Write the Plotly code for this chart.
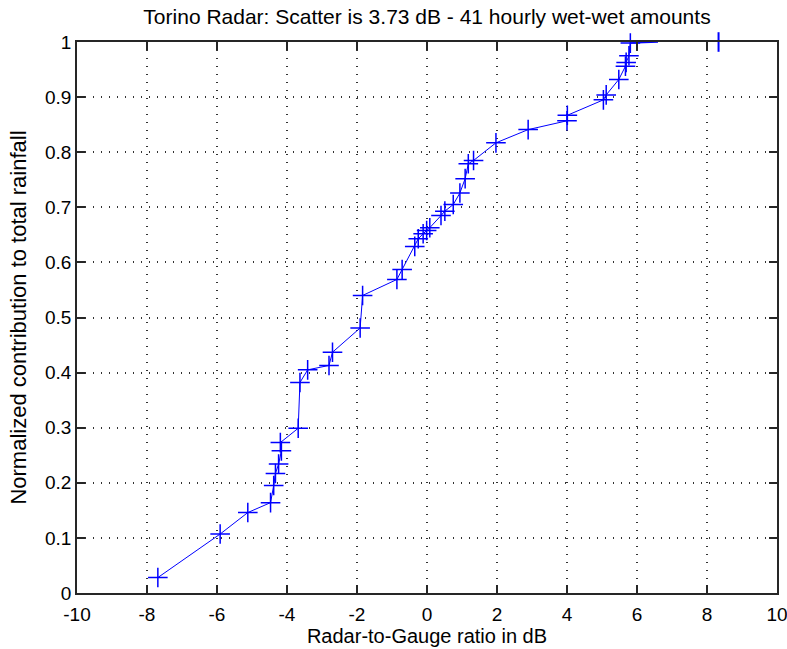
import plotly.graph_objects as go

# Radar-to-gauge ratio (dB) and normalized cumulative contribution
ratio_db = [-7.69, -5.91, -5.12, -4.47, -4.38, -4.33, -4.24, -4.16, -4.19, -3.68,
            -3.63, -3.41, -2.80, -2.70, -1.91, -1.84, -0.86, -0.71, -0.35, -0.25,
            -0.11, -0.01, 0.08, 0.40, 0.51, 0.75, 0.94, 1.09, 1.18, 1.33,
            1.97, 2.89, 4.00, 4.01, 5.04, 5.12, 5.48, 5.67, 5.69, 5.77, 5.81]
contribution = [0.028, 0.107, 0.146, 0.164, 0.195, 0.217, 0.234, 0.258, 0.273, 0.299,
                0.382, 0.405, 0.413, 0.437, 0.481, 0.540, 0.569, 0.587, 0.629, 0.643,
                0.652, 0.658, 0.663, 0.685, 0.693, 0.705, 0.726, 0.752, 0.779, 0.785,
                0.817, 0.841, 0.857, 0.867, 0.895, 0.904, 0.932, 0.956, 0.963, 0.975, 0.998]
tail_x = [5.81, 6.6]
tail_y = [0.998, 1.0]
outlier_x = [8.33]
outlier_y = [1.0]

x_ticks = [-10, -8, -6, -4, -2, 0, 2, 4, 6, 8, 10]
y_ticks = [0, 0.1, 0.2, 0.3, 0.4, 0.5, 0.6, 0.7, 0.8, 0.9, 1]
y_tick_text = ["0", "0.1", "0.2", "0.3", "0.4", "0.5", "0.6", "0.7", "0.8", "0.9", "1"]

blue = "#0000ff"
font = "Liberation Sans"

fig = go.Figure()
fig.add_trace(go.Scatter(x=tail_x, y=tail_y, mode="lines",
                         line=dict(color=blue, width=1.5), cliponaxis=False,
                         showlegend=False, hoverinfo="skip"))
fig.add_trace(go.Scatter(x=ratio_db, y=contribution, mode="lines+markers",
                         line=dict(color=blue, width=1),
                         marker=dict(symbol="cross-thin-open", size=14, color=blue,
                                     line=dict(color=blue, width=1.5)),
                         cliponaxis=False, showlegend=False))
fig.add_trace(go.Scatter(x=outlier_x, y=outlier_y, mode="markers",
                         marker=dict(symbol="line-ns-open", size=14, color=blue,
                                     line=dict(color=blue, width=2)),
                         cliponaxis=False, showlegend=False))

axis_common = dict(showline=True, linecolor="#262626", linewidth=1.5, mirror="ticks",
                   ticks="inside", ticklen=8, tickcolor="#262626", tickwidth=1.5,
                   showgrid=True, gridcolor="#333333", griddash="1px,7px", gridwidth=1.5,
                   zeroline=False, automargin=False, ticklabeloverflow="allow",
                   tickfont=dict(family=font, size=19, color="black"))

fig.update_layout(
    width=787, height=649,
    margin=dict(l=77, r=10, t=42, b=56),
    paper_bgcolor="white", plot_bgcolor="white",
    title=dict(text="Torino Radar: Scatter is 3.73 dB - 41 hourly wet-wet amounts",
               x=(77 + 350) / 787, xanchor="center", y=1 - 17 / 649, yanchor="middle",
               font=dict(family=font, size=21, color="black")),
    xaxis=dict(range=[-10, 10], tickvals=x_ticks, ticktext=[str(v) for v in x_ticks],
               ticklabelstandoff=3,
               title=dict(text="Radar-to-Gauge ratio in dB", standoff=3,
                          font=dict(family=font, size=20, color="black")),
               **axis_common),
    yaxis=dict(range=[0, 1], tickvals=y_ticks, ticktext=y_tick_text,
               title=dict(text="Normalized contribution to total rainfall", standoff=12,
                          font=dict(family=font, size=22, color="black")),
               **axis_common),
)

fig.write_html("out.html", config={"displayModeBar": False},
               post_script="document.body.style.margin='0';document.body.style.overflow='hidden';")
